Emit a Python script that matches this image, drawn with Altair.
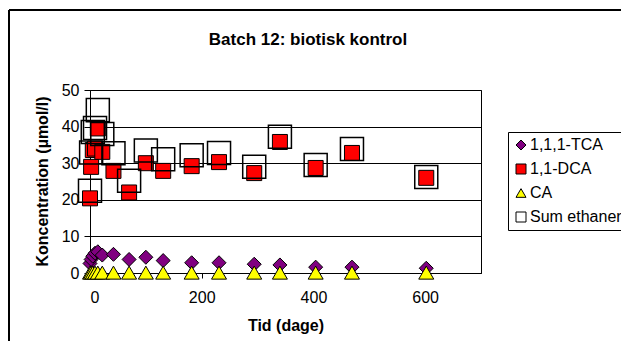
import altair as alt
import pandas as pd

TITLE = "Batch 12: biotisk kontrol"
days = [0, 2, 5, 9, 14, 22, 42, 70, 100, 131, 182, 231, 294, 340, 404, 469, 602]
tca = [2.6, 3.7, 4.6, 5.4, 5.8, 4.9, 5.1, 3.7, 4.3, 3.4, 2.8, 2.8, 2.4, 2.2, 1.6, 1.6, 1.3]
dca = [20.4, 29.0, 33.6, 34.0, 39.5, 33.1, 27.9, 22.0, 30.0, 27.9, 29.2, 30.3, 27.3, 35.8, 28.7, 32.8, 26.0]
ca = [0.1, 0.1, 0.1, 0.1, 0.1, 0.1, 0.1, 0.1, 0.1, 0.1, 0.1, 0.1, 0.1, 0.1, 0.1, 0.1, 0.1]
sum_eth = [22.5, 32.9, 38.5, 39.6, 44.5, 38.0, 32.7, 25.2, 33.5, 31.1, 32.2, 32.8, 29.0, 37.2, 29.5, 33.9, 26.2]

series = ["1,1,1-TCA", "1,1-DCA", "CA", "Sum ethaner"]
shapes = ["diamond", "square", "triangle-up", "square"]
fills = ["#800080", "#FF0000", "#FFFF00", "transparent"]
sizes = [196, 225, 225, 530]
stroke_widths = [1, 1, 1, 1.5]

rows = []
for name, vals in zip(series, [tca, dca, ca, sum_eth]):
    for d, v in zip(days, vals):
        rows.append({"Tid": d, "Konc": v, "Serie": name})
df = pd.DataFrame(rows)
one = pd.DataFrame({"text": [TITLE]})

FONT = "Liberation Sans"

base = alt.Chart(df).encode(
    x=alt.X("Tid:Q", scale=alt.Scale(domain=[0, 700], nice=False),
            axis=alt.Axis(values=[0, 200, 400, 600], title="Tid (dage)", grid=False,
                          tickSize=5, labelPadding=11, titleY=52, titleBaseline="middle")),
    y=alt.Y("Konc:Q", scale=alt.Scale(domain=[0, 50], nice=False),
            axis=alt.Axis(values=[0, 10, 20, 30, 40, 50], title="Koncentration (µmol/l)",
                          grid=True, tickSize=6, labelPadding=5, titleX=-48, titleY=91,
                          titleBaseline="middle")),
    shape=alt.Shape("Serie:N", scale=alt.Scale(domain=series, range=shapes),
                    legend=alt.Legend(title=None, orient="none", legendX=418, legendY=42,
                                      strokeColor="black", padding=5, rowPadding=8,
                                      symbolSize=100, symbolStrokeColor="black",
                                      symbolStrokeWidth=1, labelFont=FONT, labelFontSize=16,
                                      labelColor="black", labelOffset=1, fillColor="white")),
    fill=alt.Fill("Serie:N", scale=alt.Scale(domain=series, range=fills)),
    stroke=alt.Stroke("Serie:N", scale=alt.Scale(domain=series, range=["black"] * 4)),
)

layers = []
for name, sz, sw in zip(series, sizes, stroke_widths):
    layers.append(
        base.transform_filter(alt.datum.Serie == name).mark_point(
            filled=True, strokeWidth=sw, size=sz, opacity=1)
    )

title_txt = alt.Chart(one).mark_text(
    font=FONT, fontSize=17, fontWeight="bold",
    color="black", align="center", baseline="middle").encode(
    text="text:N", x=alt.value(218), y=alt.value(-50))

frame_left = alt.Chart(one).mark_rule(color="black", strokeWidth=2).encode(
    x=alt.value(-81), y=alt.value(-80), y2=alt.value(300))
frame_top = alt.Chart(one).mark_rule(color="black", strokeWidth=2).encode(
    x=alt.value(-81), x2=alt.value(600), y=alt.value(-80))

chart = alt.layer(frame_left, frame_top, title_txt, *layers).properties(
    width=391, height=183,
    autosize=alt.AutoSizeParams(type="none"),
    padding={"left": 82, "top": 82, "right": 140, "bottom": 68},
).configure_view(stroke="black", strokeWidth=1).configure_axis(
    domainColor="black", tickColor="black", gridColor="black", gridWidth=1,
    labelFont=FONT, labelFontSize=16, labelColor="black",
    titleFont=FONT, titleFontSize=16, titleFontWeight="bold", titleColor="black",
)

chart.save("out.html", embed_options={"renderer": "svg", "actions": False})
